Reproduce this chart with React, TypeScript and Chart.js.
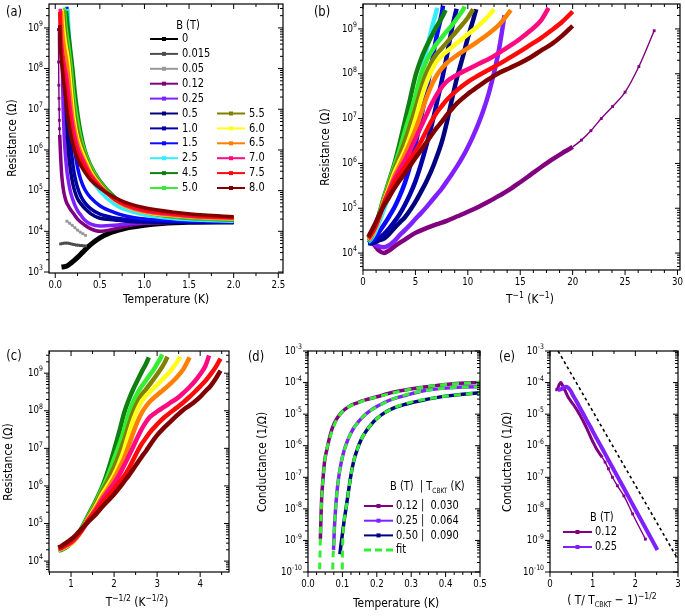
import { useEffect, useRef } from 'react';
import { Chart, registerables } from 'chart.js';

Chart.register(...registerables);

const FONT = '"DejaVu Sans", "Noto Sans", sans-serif';
const SX = 0.82;

// ---------------- data (T in K, R in Ohm) ----------------
const FIELDS = ['0', '0.015', '0.05', '0.12', '0.25', '0.5', '1.0', '1.5', '2.5', '4.5', '5.0', '5.5', '6.0', '6.5', '7.0', '7.5', '8.0'];
const COLORS = ['#000000', '#4d4d4d', '#999999', '#800080', '#8020ff', '#000080', '#0000a8', '#0a0aff', '#33eeff', '#0f800f', '#33ee33', '#808000', '#ffff1a', '#ff8000', '#ff0a80', '#ff0a0a', '#800000'];

const T_B0 = [0.07, 0.1, 0.13, 0.16, 0.2, 0.25, 0.3, 0.35, 0.4, 0.5, 0.6, 0.7, 0.8, 1.0, 1.2, 1.5, 2.0];
const R_B0 = [1.32e3, 1.35e3, 1.41e3, 1.55e3, 1.82e3, 2.29e3, 2.95e3, 3.8e3, 4.79e3, 6.92e3, 8.91e3, 1.05e4, 1.2e4, 1.41e4, 1.55e4, 1.66e4, 1.7e4];
const T_B0015 = [0.06, 0.08, 0.1, 0.12, 0.14, 0.16, 0.18, 0.2, 0.22, 0.24, 0.26, 0.28, 0.3, 0.32, 0.34];
const R_B0015 = [4.9e3, 5.01e3, 5.13e3, 5.13e3, 5.13e3, 5.01e3, 4.9e3, 4.79e3, 4.68e3, 4.57e3, 4.57e3, 4.47e3, 4.47e3, 4.37e3, 4.37e3];
const T_B005 = [0.13, 0.16, 0.19, 0.22, 0.25, 0.28, 0.31, 0.34];
const R_B005 = [1.78e4, 1.58e4, 1.41e4, 1.23e4, 1.07e4, 9.55e3, 8.71e3, 7.94e3];
const T_B012 = [2.0, 1.667, 1.333, 1.0, 0.8, 0.667, 0.5, 0.4, 0.333, 0.25, 0.2, 0.167, 0.143, 0.125, 0.111, 0.1, 0.0909, 0.0833, 0.0769, 0.0714, 0.0667, 0.0625, 0.0588, 0.0556, 0.0526, 0.05, 0.048, 0.046, 0.044, 0.042, 0.04, 0.038, 0.036];
const R_B012 = [1.7e4, 1.7e4, 1.66e4, 1.58e4, 1.35e4, 1.15e4, 1.0e4, 1.15e4, 1.41e4, 2.0e4, 2.82e4, 3.55e4, 4.37e4, 5.25e4, 6.61e4, 8.32e4, 1.07e5, 1.41e5, 1.91e5, 2.63e5, 3.8e5, 5.62e5, 8.32e5, 1.2e6, 1.7e6, 2.34e6, 3.31e6, 5.37e6, 1.0e7, 1.86e7, 3.89e7, 1.45e8, 9.12e8];
const T_B025 = [2.0, 1.667, 1.333, 1.0, 0.8, 0.667, 0.5, 0.4, 0.333, 0.286, 0.25, 0.222, 0.2, 0.182, 0.167, 0.154, 0.143, 0.133, 0.125, 0.118, 0.111, 0.105, 0.1, 0.0952, 0.0909, 0.087, 0.0833, 0.08, 0.0769, 0.0741];
const R_B025 = [1.7e4, 1.7e4, 1.66e4, 1.62e4, 1.51e4, 1.41e4, 1.35e4, 1.5e4, 1.86e4, 2.51e4, 3.24e4, 4.27e4, 5.75e4, 7.59e4, 1.02e5, 1.41e5, 1.95e5, 2.75e5, 3.98e5, 5.75e5, 8.91e5, 1.41e6, 2.29e6, 4.07e6, 7.59e6, 1.55e7, 3.72e7, 1.05e8, 3.8e8, 2.0e9];
const T_B05 = [2.0, 1.667, 1.333, 1.0, 0.8, 0.667, 0.5, 0.4, 0.333, 0.286, 0.25, 0.222, 0.2, 0.182, 0.167, 0.154, 0.143, 0.133, 0.125, 0.118, 0.111, 0.105, 0.1, 0.0952, 0.0926];
const R_B05 = [1.66e4, 1.66e4, 1.66e4, 1.7e4, 1.78e4, 1.91e4, 2.09e4, 2.69e4, 3.63e4, 4.79e4, 6.31e4, 9.12e4, 1.38e5, 2.24e5, 3.72e5, 6.61e5, 1.32e6, 3.02e6, 8.32e6, 2.63e7, 8.91e7, 2.4e8, 6.31e8, 1.58e9, 2.75e9];
const T_B10 = [2.0, 1.667, 1.333, 1.0, 0.8, 0.667, 0.5, 0.4, 0.333, 0.286, 0.25, 0.222, 0.2, 0.182, 0.167, 0.154, 0.143, 0.133, 0.125, 0.118, 0.112];
const R_B10 = [1.66e4, 1.7e4, 1.74e4, 1.82e4, 1.95e4, 2.14e4, 2.63e4, 3.55e4, 5.01e4, 7.41e4, 1.2e5, 2.09e5, 3.98e5, 8.91e5, 2.24e6, 6.31e6, 2.0e7, 7.08e7, 2.51e8, 1.0e9, 2.82e9];
const T_B15 = [2.0, 1.667, 1.333, 1.0, 0.8, 0.667, 0.5, 0.4, 0.333, 0.286, 0.25, 0.222, 0.2, 0.182, 0.167, 0.154, 0.143, 0.133, 0.131];
const R_B15 = [1.7e4, 1.74e4, 1.82e4, 2.0e4, 2.34e4, 2.88e4, 4.27e4, 6.61e4, 1.05e5, 1.86e5, 3.72e5, 8.91e5, 2.63e6, 9.33e6, 3.55e7, 1.41e8, 6.31e8, 2.24e9, 3.31e9];
const T_B25 = [2.0, 1.667, 1.333, 1.0, 0.8, 0.667, 0.5, 0.4, 0.333, 0.286, 0.25, 0.222, 0.2, 0.182, 0.167, 0.154, 0.141];
const R_B25 = [1.78e4, 1.86e4, 2.04e4, 2.51e4, 3.31e4, 4.57e4, 9.55e4, 2.0e5, 4.47e5, 1.0e6, 2.51e6, 7.08e6, 2.24e7, 7.94e7, 2.82e8, 8.91e8, 2.95e9];
const T_B45 = [2.0, 1.667, 1.333, 1.0, 0.8, 0.667, 0.5, 0.4, 0.333, 0.286, 0.25, 0.222, 0.2, 0.182, 0.167, 0.154, 0.143, 0.133, 0.127];
const R_B45 = [1.91e4, 2.0e4, 2.24e4, 3.02e4, 4.37e4, 6.92e4, 1.78e5, 4.17e5, 1.0e6, 2.82e6, 8.91e6, 2.82e7, 8.91e7, 2.0e8, 3.8e8, 6.61e8, 1.1e9, 1.78e9, 2.63e9];
const T_B50 = [2.0, 1.667, 1.333, 1.0, 0.8, 0.667, 0.5, 0.4, 0.333, 0.286, 0.25, 0.222, 0.2, 0.182, 0.167, 0.154, 0.143, 0.133, 0.125, 0.118, 0.111, 0.105, 0.103];
const R_B50 = [1.95e4, 2.04e4, 2.29e4, 2.95e4, 4.17e4, 6.46e4, 1.66e5, 3.8e5, 8.91e5, 2.0e6, 5.25e6, 1.26e7, 3.16e7, 8.91e7, 1.78e8, 3.02e8, 4.57e8, 6.46e8, 8.91e8, 1.2e9, 1.78e9, 2.63e9, 3.16e9];
const T_B55 = [2.0, 1.667, 1.333, 1.0, 0.8, 0.667, 0.5, 0.4, 0.333, 0.286, 0.25, 0.222, 0.2, 0.182, 0.167, 0.154, 0.143, 0.133, 0.125, 0.111, 0.1, 0.0952];
const R_B55 = [2.0e4, 2.09e4, 2.34e4, 2.95e4, 4.07e4, 6.17e4, 1.55e5, 3.39e5, 7.59e5, 1.51e6, 3.16e6, 7.08e6, 1.66e7, 4.17e7, 9.55e7, 1.74e8, 2.69e8, 3.72e8, 5.01e8, 9.33e8, 1.78e9, 2.75e9];
const T_B60 = [2.0, 1.667, 1.333, 1.0, 0.8, 0.667, 0.5, 0.4, 0.333, 0.286, 0.25, 0.222, 0.2, 0.182, 0.167, 0.154, 0.143, 0.133, 0.125, 0.111, 0.1, 0.0909, 0.0833, 0.08];
const R_B60 = [2.04e4, 2.14e4, 2.4e4, 2.95e4, 3.98e4, 5.89e4, 1.41e5, 2.95e5, 6.31e5, 1.12e6, 2.0e6, 4.17e6, 9.55e6, 2.51e7, 5.75e7, 1.12e8, 1.82e8, 2.51e8, 3.16e8, 4.9e8, 7.59e8, 1.17e9, 2.0e9, 2.75e9];
const T_B65 = [2.0, 1.667, 1.333, 1.0, 0.8, 0.667, 0.5, 0.4, 0.333, 0.286, 0.25, 0.222, 0.2, 0.182, 0.167, 0.154, 0.143, 0.133, 0.125, 0.111, 0.1, 0.0909, 0.0833, 0.0769, 0.0709];
const R_B65 = [2.09e4, 2.19e4, 2.45e4, 3.02e4, 4.07e4, 5.89e4, 1.35e5, 2.63e5, 5.25e5, 8.91e5, 1.58e6, 2.95e6, 5.62e6, 1.2e7, 2.63e7, 5.25e7, 8.91e7, 1.32e8, 1.74e8, 2.63e8, 3.72e8, 5.37e8, 7.94e8, 1.26e9, 2.63e9];
const T_B70 = [2.0, 1.667, 1.333, 1.0, 0.8, 0.667, 0.5, 0.4, 0.333, 0.286, 0.25, 0.222, 0.2, 0.182, 0.167, 0.154, 0.143, 0.133, 0.125, 0.111, 0.1, 0.0909, 0.0833, 0.0769, 0.0714, 0.0667, 0.0625, 0.0588, 0.0565];
const R_B70 = [2.14e4, 2.24e4, 2.57e4, 3.16e4, 4.27e4, 6.03e4, 1.29e5, 2.4e5, 4.47e5, 7.41e5, 1.17e6, 2.0e6, 3.55e6, 6.31e6, 1.12e7, 2.0e7, 3.31e7, 5.01e7, 6.76e7, 9.55e7, 1.26e8, 1.66e8, 2.14e8, 2.95e8, 4.17e8, 6.03e8, 9.33e8, 1.58e9, 2.95e9];
const T_B75 = [2.0, 1.667, 1.333, 1.0, 0.8, 0.667, 0.5, 0.4, 0.333, 0.286, 0.25, 0.222, 0.2, 0.182, 0.167, 0.154, 0.143, 0.133, 0.125, 0.111, 0.1, 0.0909, 0.0833, 0.0769, 0.0714, 0.0667, 0.0625, 0.0588, 0.0556, 0.0526, 0.05];
const R_B75 = [2.19e4, 2.34e4, 2.69e4, 3.39e4, 4.47e4, 6.17e4, 1.23e5, 2.14e5, 3.72e5, 5.62e5, 8.32e5, 1.26e6, 1.86e6, 2.95e6, 5.01e6, 8.51e6, 1.32e7, 1.91e7, 2.63e7, 4.37e7, 6.61e7, 9.12e7, 1.23e8, 1.66e8, 2.29e8, 3.16e8, 4.47e8, 6.31e8, 9.33e8, 1.45e9, 2.45e9];
const T_B80 = [2.0, 1.667, 1.333, 1.0, 0.8, 0.667, 0.5, 0.4, 0.333, 0.286, 0.25, 0.222, 0.2, 0.182, 0.167, 0.154, 0.143, 0.133, 0.125, 0.111, 0.1, 0.0909, 0.0833, 0.0769, 0.0714, 0.0667, 0.0625, 0.0588, 0.0556, 0.0526, 0.05];
const R_B80 = [2.29e4, 2.51e4, 2.95e4, 3.8e4, 5.01e4, 6.76e4, 1.15e5, 1.78e5, 2.82e5, 4.17e5, 6.03e5, 8.91e5, 1.32e6, 1.91e6, 2.82e6, 4.17e6, 6.03e6, 8.51e6, 1.2e7, 2.24e7, 3.55e7, 5.25e7, 7.59e7, 1.05e8, 1.35e8, 1.74e8, 2.34e8, 3.31e8, 4.57e8, 7.08e8, 1.17e9];

const T_LIST = [T_B0, T_B0015, T_B005, T_B012, T_B025, T_B05, T_B10, T_B15, T_B25, T_B45, T_B50, T_B55, T_B60, T_B65, T_B70, T_B75, T_B80];
const R_LIST = [R_B0, R_B0015, R_B005, R_B012, R_B025, R_B05, R_B10, R_B15, R_B25, R_B45, R_B50, R_B55, R_B60, R_B65, R_B70, R_B75, R_B80];

// BKT transition temperatures (K) and fits of panel (d): T (K), conductance (1/Ohm)
const TC_012 = 0.03;
const TC_025 = 0.064;
const TC_05 = 0.09;
const D_LEGEND_B = ['0.12', '0.25', '0.50'];
const FIT_T_012 = [0.0333, 0.034, 0.035, 0.036, 0.038, 0.04, 0.044, 0.05, 0.06, 0.08, 0.1, 0.15, 0.2, 0.3, 0.4, 0.5];
const FIT_G_012 = [5e-11, 1.5e-10, 4e-10, 1.1e-9, 6.9e-9, 2.6e-8, 1.0e-7, 4.3e-7, 1.3e-6, 5.6e-6, 1.2e-5, 2.4e-5, 3.5e-5, 6.2e-5, 8.7e-5, 1.0e-4];
const FIT_T_025 = [0.0718, 0.072, 0.0725, 0.0741, 0.0769, 0.08, 0.0833, 0.087, 0.0909, 0.0952, 0.1, 0.111, 0.125, 0.143, 0.167, 0.2, 0.25, 0.3, 0.4, 0.5];
const FIT_G_025 = [5e-11, 1.2e-10, 2.5e-10, 5e-10, 2.6e-9, 9.5e-9, 2.7e-8, 6.5e-8, 1.3e-7, 2.5e-7, 4.4e-7, 1.1e-6, 2.5e-6, 5.1e-6, 9.8e-6, 1.7e-5, 3.1e-5, 4.6e-5, 6.7e-5, 7.4e-5];
const FIT_T_05 = [0.0995, 0.1, 0.101, 0.103, 0.106, 0.111, 0.118, 0.125, 0.133, 0.143, 0.154, 0.167, 0.2, 0.25, 0.3, 0.4, 0.5];
const FIT_G_05 = [5e-11, 3e-10, 1.0e-9, 2.5e-9, 5.0e-9, 1.1e-8, 3.8e-8, 1.2e-7, 3.3e-7, 7.6e-7, 1.5e-6, 2.7e-6, 7.2e-6, 1.58e-5, 2.4e-5, 3.7e-5, 4.8e-5];
// guide line in panel (e)
const GUIDE_X = [0.19, 3.0];
const GUIDE_G = [1e-3, 2.5e-10];

// ---------------- helpers ----------------
type Seg = { t: string; s?: 'sup' | 'sub' };
type Axis = { min: number; max: number; log?: boolean; major?: number[]; minorStep?: number; fmt?: (v: number) => string };
type Spec = {
  box: [number, number, number, number];
  area: [number, number, number, number];
  x: Axis;
  y: Axis;
  datasets: any[];
  label: [string, number, number];
  xTitle: [Seg[], number, number];
  yTitle: [Seg[], number, number];
  extra?: (ctx: CanvasRenderingContext2D) => void;
};

const BOXES: [number, number, number, number][] = [
  [0, 0, 345, 312],
  [300, 0, 385, 312],
  [0, 312, 235, 304],
  [235, 312, 262, 304],
  [485, 312, 200, 304],
];

function drawRich(ctx: CanvasRenderingContext2D, segs: Seg[], x: number, y: number, size: number, align: 'left' | 'center' | 'right' = 'center', rot = 0) {
  ctx.save();
  ctx.translate(x, y);
  if (rot) ctx.rotate(rot);
  ctx.scale(SX, 1);
  ctx.fillStyle = '#000';
  ctx.textBaseline = 'middle';
  ctx.textAlign = 'left';
  const fonts = segs.map((s) => `${s.s === 'sup' ? size * 0.72 : s.s === 'sub' ? size * 0.6 : size}px ${FONT}`);
  const widths = segs.map((s, i) => {
    ctx.font = fonts[i];
    return ctx.measureText(s.t).width;
  });
  const total = widths.reduce((a, b) => a + b, 0);
  let cx = align === 'center' ? -total / 2 : align === 'right' ? -total : 0;
  segs.forEach((s, i) => {
    ctx.font = fonts[i];
    const dy = s.s === 'sup' ? -size * 0.36 : s.s === 'sub' ? size * 0.32 : 0;
    ctx.fillText(s.t, cx, dy);
    cx += widths[i];
  });
  ctx.restore();
}

function ticksFor(a: Axis): [number, boolean][] {
  const out: [number, boolean][] = [];
  if (a.log) {
    const k0 = Math.floor(Math.log10(a.min)) - 1;
    const k1 = Math.ceil(Math.log10(a.max)) + 1;
    for (let k = k0; k <= k1; k++) {
      for (let m = 1; m <= 9; m++) {
        const v = m * Math.pow(10, k);
        if (v >= a.min * 0.9999 && v <= a.max * 1.0001) out.push([v, m === 1]);
      }
    }
  } else {
    (a.major || []).forEach((v) => out.push([v, true]));
    if (a.minorStep) {
      const st = a.minorStep;
      for (let v = Math.ceil(a.min / st) * st; v <= a.max + 1e-9; v += st) {
        if (!(a.major || []).some((m) => Math.abs(m - v) < st * 0.01)) out.push([v, false]);
      }
    }
  }
  return out;
}

function labelFor(a: Axis, v: number): Seg[] {
  if (a.log) return [{ t: '10' }, { t: String(Math.round(Math.log10(v))), s: 'sup' }];
  return [{ t: a.fmt ? a.fmt(v) : String(v) }];
}

function legendLine(ctx: CanvasRenderingContext2D, x1: number, x2: number, y: number, color: string, dash?: number[], lw = 2) {
  ctx.save();
  ctx.strokeStyle = color;
  ctx.lineWidth = lw;
  if (dash) ctx.setLineDash(dash);
  ctx.beginPath();
  ctx.moveTo(x1, y);
  ctx.lineTo(x2, y);
  ctx.stroke();
  if (!dash) {
    ctx.fillStyle = color;
    const m = (x1 + x2) / 2;
    ctx.fillRect(m - 2, y - 2, 4, 4);
  }
  ctx.restore();
}

function decorPlugin(spec: Spec) {
  return {
    id: 'decor',
    afterDraw(chart: any) {
      const ctx: CanvasRenderingContext2D = chart.ctx;
      const [ox, oy] = spec.box;
      const { left, right, top, bottom } = chart.chartArea;
      const xs = chart.scales.x;
      const ys = chart.scales.y;
      ctx.save();
      ctx.strokeStyle = '#000';
      ctx.lineWidth = 1.2;
      ctx.strokeRect(left, top, right - left, bottom - top);
      ctx.lineWidth = 1;
      ctx.beginPath();
      const xt = ticksFor(spec.x);
      const yt = ticksFor(spec.y);
      xt.forEach(([v, major]) => {
        const p = xs.getPixelForValue(v);
        const len = major ? 5 : 3;
        ctx.moveTo(p, bottom);
        ctx.lineTo(p, bottom + len);
        ctx.moveTo(p, top);
        ctx.lineTo(p, top + len);
      });
      yt.forEach(([v, major]) => {
        const p = ys.getPixelForValue(v);
        const len = major ? 5 : 3;
        ctx.moveTo(left, p);
        ctx.lineTo(left - len, p);
        ctx.moveTo(right, p);
        ctx.lineTo(right - len, p);
      });
      ctx.stroke();
      xt.filter((t) => t[1]).forEach(([v]) => {
        drawRich(ctx, labelFor(spec.x, v), xs.getPixelForValue(v), bottom + 12, 10.5, 'center');
      });
      yt.filter((t) => t[1]).forEach(([v]) => {
        drawRich(ctx, labelFor(spec.y, v), left - 6, ys.getPixelForValue(v), 10.5, 'right');
      });
      ctx.translate(-ox, -oy);
      drawRich(ctx, [{ t: spec.label[0] }], spec.label[1], spec.label[2], 14, 'center');
      drawRich(ctx, spec.xTitle[0], spec.xTitle[1], spec.xTitle[2], 13, 'center');
      drawRich(ctx, spec.yTitle[0], spec.yTitle[1], spec.yTitle[2], 13, 'center', -Math.PI / 2);
      if (spec.extra) spec.extra(ctx);
      ctx.restore();
    },
  };
}

type Curve = { label: string; color: string; T: number[]; R: number[] };
const CURVES: Curve[] = FIELDS.map((f, i) => ({ label: f, color: COLORS[i], T: T_LIST[i], R: R_LIST[i] }));

function series(T: number[], V: number[], fx: (t: number, v: number) => number, fy: (t: number, v: number) => number) {
  const pts = T.map((t, i) => ({ x: fx(t, V[i]), y: fy(t, V[i]) }));
  pts.sort((a, b) => a.x - b.x);
  return pts;
}

function ds(color: string, data: any[], extra: any = {}) {
  return {
    data,
    borderColor: color,
    backgroundColor: color,
    borderWidth: 4,
    pointRadius: 0,
    pointStyle: 'rect',
    pointBorderWidth: 0,
    cubicInterpolationMode: 'monotone',
    borderJoinStyle: 'round',
    clip: 0,
    ...extra,
  };
}

const resTitle: Seg[] = [{ t: 'Resistance (Ω)' }];
const condTitle: Seg[] = [{ t: 'Conductance (1/Ω)' }];

function buildSpecs(): Spec[] {
  // (a) R vs T
  const aSets = CURVES.map((c, i) => {
    const base: any = ds(c.color, series(c.T, c.R, (t) => t, (t, r) => r), { borderWidth: 3.5, order: 100 - i });
    if (c.label === '0') base.borderWidth = 5;
    if (c.label === '0.015' || c.label === '0.05') Object.assign(base, { borderWidth: 1.6, pointRadius: 2 });
    if (c.label === '0.12')
      Object.assign(base, {
        segment: { borderWidth: (s: any) => (s.p0.parsed.x < 0.0495 ? 1.4 : undefined) },
        pointRadius: (p: any) => (p.parsed && p.parsed.x < 0.0495 ? 2 : 0),
      });
    return base;
  });

  // (b) R vs 1/T
  const bSets = CURVES.slice(3).map((c, i) => {
    const base: any = ds(c.color, series(c.T, c.R, (t) => 1 / t, (t, r) => r), { borderWidth: 4.5, order: 100 - i });
    if (c.label === '0.12')
      Object.assign(base, {
        segment: { borderWidth: (s: any) => (s.p1.parsed.x > 20.1 ? 1.4 : undefined) },
        pointRadius: (p: any) => (p.parsed && p.parsed.x > 20.1 ? 2 : 0),
      });
    return base;
  });

  // (c) R vs T^-1/2
  const cSets = CURVES.slice(9).map((c, i) => ds(c.color, series(c.T, c.R, (t) => 1 / Math.sqrt(t), (t, r) => r), { borderWidth: 4.5, order: 100 - i }));

  // (d) G vs T with fits
  const dSets: any[] = CURVES.slice(3, 6).map((c, i) => ds(c.color, series(c.T, c.R, (t) => t, (t, r) => 1 / r), { borderWidth: 3.5, order: 50 - i }));
  [
    [FIT_T_012, FIT_G_012],
    [FIT_T_025, FIT_G_025],
    [FIT_T_05, FIT_G_05],
  ].forEach(([T, G], i) => {
    dSets.push(ds('#33ee33', series(T, G, (t) => t, (t, g) => g), { borderWidth: 3, borderDash: [7, 5], order: -i }));
  });

  // (e) G vs (T/Tc - 1)^-1/2
  const eSets: any[] = [];
  const cp = CURVES[3];
  eSets.push(
    ds(cp.color, series(cp.T, cp.R, (t) => Math.pow(t / TC_012 - 1, -0.5), (t, r) => 1 / r), {
      borderWidth: 3,
      order: 5,
      segment: { borderWidth: (s: any) => (s.p1.parsed.x > 1.23 ? 1.4 : undefined) },
      pointRadius: (p: any) => (p.parsed && p.parsed.x > 1.23 ? 2 : 0),
    })
  );
  const cv = CURVES[4];
  eSets.push(ds(cv.color, series(cv.T, cv.R, (t) => Math.pow(t / TC_025 - 1, -0.5), (t, r) => 1 / r), { borderWidth: 4, order: 4 }));
  eSets.push(ds('#000000', series(GUIDE_X, GUIDE_G, (x) => x, (x, g) => g), { borderWidth: 1.6, borderDash: [3, 3], cubicInterpolationMode: 'default', tension: 0, order: 0 }));

  const legendA = (ctx: CanvasRenderingContext2D) => {
    drawRich(ctx, [{ t: 'B (T)' }], 188, 26, 12, 'center');
    CURVES.forEach((c, i) => {
      const col2 = i >= 11;
      const row = col2 ? i - 11 + 5 : i;
      const y = 39 + row * 14.9;
      const x1 = col2 ? 217 : 150;
      legendLine(ctx, x1, x1 + 28, y, c.color);
      drawRich(ctx, [{ t: c.label }], x1 + 32, y, 12, 'left');
    });
  };
  const legendD = (ctx: CanvasRenderingContext2D) => {
    drawRich(ctx, [{ t: 'B (T)  | T' }, { t: 'CBKT', s: 'sub' }, { t: ' (K)' }], 390, 487, 12, 'left');
    const tcs = [TC_012, TC_025, TC_05];
    [3, 4, 5].forEach((ci, i) => {
      const y = 506 + i * 14.7;
      legendLine(ctx, 364, 393, y, CURVES[ci].color);
      drawRich(ctx, [{ t: `${D_LEGEND_B[i]} |  ${tcs[i].toFixed(3)}` }], 396, y, 12, 'left');
    });
    legendLine(ctx, 364, 393, 550, '#33ee33', [7, 4], 3);
    drawRich(ctx, [{ t: 'fit' }], 396, 550, 12, 'left');
  };
  const legendE = (ctx: CanvasRenderingContext2D) => {
    drawRich(ctx, [{ t: 'B (T)' }], 590, 518, 12, 'left');
    [3, 4].forEach((ci, i) => {
      const y = 532 + i * 15;
      legendLine(ctx, 563, 592, y, CURVES[ci].color);
      drawRich(ctx, [{ t: CURVES[ci].label }], 595, y, 12, 'left');
    });
  };

  return [
    {
      box: BOXES[0],
      area: [49, 3, 283, 273],
      x: { min: -0.07, max: 2.553, major: [0, 0.5, 1, 1.5, 2, 2.5], minorStep: 0.25, fmt: (v) => v.toFixed(1) },
      y: { min: 945, max: 3.87e9, log: true },
      datasets: aSets,
      label: ['(a)', 14, 12],
      xTitle: [[{ t: 'Temperature (K)' }], 166, 300],
      yTitle: [resTitle, 13, 138],
      extra: legendA,
    },
    {
      box: BOXES[1],
      area: [363, 3, 680, 270],
      x: { min: 0, max: 30.24, major: [0, 5, 10, 15, 20, 25, 30], minorStep: 1.25 },
      y: { min: 4.19e3, max: 3.6e9, log: true },
      datasets: bSets,
      label: ['(b)', 322, 12],
      xTitle: [[{ t: 'T' }, { t: '−1', s: 'sup' }, { t: ' (K' }, { t: '−1', s: 'sup' }, { t: ')' }], 530, 300],
      yTitle: [resTitle, 326, 147],
    },
    {
      box: BOXES[2],
      area: [49, 351, 229, 572],
      x: { min: 0.488, max: 4.67, major: [1, 2, 3, 4], minorStep: 0.5 },
      y: { min: 5.13e3, max: 3.89e9, log: true },
      datasets: cSets,
      label: ['(c)', 14, 356],
      xTitle: [[{ t: 'T' }, { t: '−1/2', s: 'sup' }, { t: ' (K' }, { t: '−1/2', s: 'sup' }, { t: ')' }], 137, 603],
      yTitle: [resTitle, 9, 462],
    },
    {
      box: BOXES[3],
      area: [308, 351, 480, 572],
      x: { min: 0, max: 0.5, major: [0, 0.1, 0.2, 0.3, 0.4, 0.5], minorStep: 0.025, fmt: (v) => v.toFixed(1) },
      y: { min: 1e-10, max: 1e-3, log: true },
      datasets: dSets,
      label: ['(d)', 256, 357],
      xTitle: [[{ t: 'Temperature (K)' }], 396, 604],
      yTitle: [condTitle, 263, 462],
      extra: legendD,
    },
    {
      box: BOXES[4],
      area: [550, 351, 678, 572],
      x: { min: 0, max: 3, major: [0, 1, 2, 3], minorStep: 0.5 },
      y: { min: 1e-10, max: 1e-3, log: true },
      datasets: eSets,
      label: ['(e)', 507, 357],
      xTitle: [[{ t: '( T/ T' }, { t: 'CBKT', s: 'sub' }, { t: ' − 1)' }, { t: '−1/2', s: 'sup' }], 612, 601],
      yTitle: [condTitle, 508, 462],
      extra: legendE,
    },
  ];
}

export default function App() {
  const refs = useRef<(HTMLCanvasElement | null)[]>([]);
  useEffect(() => {
    const specs = buildSpecs();
    const charts = specs.map((s, i) => {
      const cvs = refs.current[i] as HTMLCanvasElement;
      const [bx, by, bw, bh] = s.box;
      const [l, t, r, b] = s.area;
      return new Chart(cvs, {
        type: 'line',
        data: { datasets: s.datasets },
        options: {
          animation: false,
          responsive: false,
          maintainAspectRatio: false,
          events: [],
          layout: { padding: { left: l - bx, top: t - by, right: bx + bw - r, bottom: by + bh - b } },
          plugins: { legend: { display: false }, tooltip: { enabled: false } },
          scales: {
            x: { type: 'linear', min: s.x.min, max: s.x.max, display: false },
            y: { type: s.y.log ? 'logarithmic' : 'linear', min: s.y.min, max: s.y.max, display: false },
          },
        } as any,
        plugins: [decorPlugin(s)],
      });
    });
    return () => charts.forEach((c) => c.destroy());
  }, []);

  return (
    <div style={{ position: 'absolute', left: 0, top: 0, width: 685, height: 616, background: '#fff', overflow: 'hidden' }}>
      {BOXES.map((b, i) => (
        <canvas
          key={i}
          ref={(el) => {
            refs.current[i] = el;
          }}
          width={b[2]}
          height={b[3]}
          style={{ position: 'absolute', left: b[0], top: b[1], width: b[2], height: b[3] }}
        />
      ))}
    </div>
  );
}
